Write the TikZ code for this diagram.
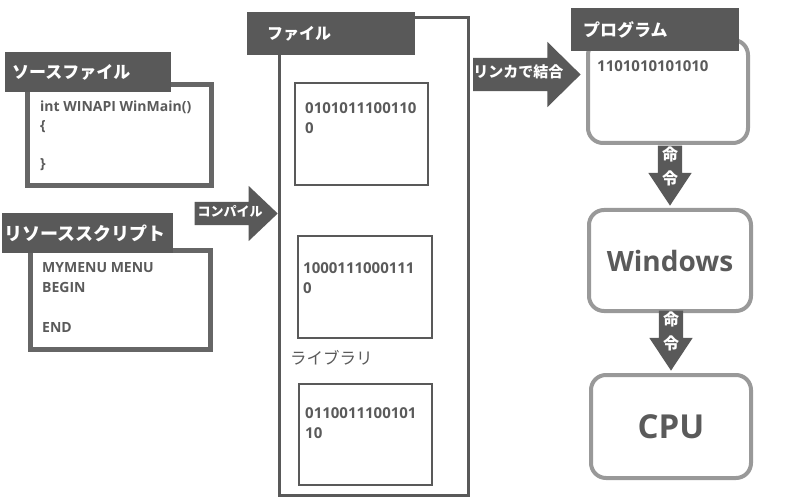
\documentclass[tikz,border=0pt]{standalone}
\usepackage{fontspec}
\setmainfont{Open Sans}
\newfontfamily\jp{Noto Sans CJK JP}
\usetikzlibrary{shapes.arrows,positioning}
\definecolor{tagdark}{HTML}{595959}
\definecolor{framegray}{HTML}{666666}
\definecolor{roundgray}{HTML}{999999}
\definecolor{codegray}{HTML}{5A5A5A}
\begin{document}
\begin{tikzpicture}[x=1pt,y=-1pt,
  tag/.style={fill=tagdark,text=white,anchor=north west,inner ysep=0pt,align=left,
    font=\jp\bfseries\fontsize{17}{17}\selectfont},
  codebox/.style={draw=framegray,line width=5pt,inner sep=0pt},
  libbox/.style={draw=tagdark,line width=2pt,inner sep=0pt},
  roundbox/.style={draw=roundgray,line width=4pt,rounded corners=15pt,inner sep=0pt,text=codegray},
  code/.style={anchor=north west,inner sep=0pt,align=left,text=codegray,
    font=\bfseries\fontsize{14}{19}\selectfont},
  bits/.style={anchor=north west,inner sep=0pt,align=left,text=codegray,
    font=\bfseries\fontsize{15}{20}\selectfont},
  blockarrow/.style={single arrow,fill=tagdark,text=white,inner xsep=0pt,
    font=\jp\bfseries\fontsize{13}{13}\selectfont},
  downarrow/.style={blockarrow,shape border rotate=270,align=center,inner xsep=4pt,inner ysep=0pt,
    minimum height=60pt,single arrow head extend=9.5pt,single arrow tip angle=67,anchor=tip,
    font=\jp\bfseries\fontsize{16}{24}\selectfont}]
\useasboundingbox (0,0) rectangle (796,500);

% source files
\node[codebox,minimum width=184pt,minimum height=101pt] (src) at (119.5,135) {};
\node[tag,inner xsep=7pt,text width=152pt,minimum height=40pt] (srctag) at (5,52) {ソースファイル};
\node[code] (srccode) at (40,101) {int WINAPI WinMain()\\\{\\[19pt]\}};

\node[codebox,minimum width=180pt,minimum height=99pt] (res) at (120.5,300) {};
\node[tag,inner xsep=2pt,text width=167pt,minimum height=40pt,
  font=\jp\bfseries\fontsize{18}{18}\selectfont] (restag) at (2,213) {リソーススクリプト};
\node[code,font=\bfseries\fontsize{14}{20}\selectfont] (rescode) at (42,262) {MYMENU MENU\\BEGIN\\[20pt]END};

% object files and library
\node[draw=tagdark,line width=3pt,minimum width=189pt,minimum height=478pt] (file) at (374,256.5) {};
\node[tag,inner xsep=20pt,text width=128pt,minimum height=43pt,
  font=\jp\bfseries\fontsize{16}{16}\selectfont] (filetag) at (247,12) {ファイル};

\node[libbox,minimum width=133pt,minimum height=102pt] (obj1) at (361.5,134) {};
\node[bits] at (305,102) {0101011100110\\0};
\node[libbox,minimum width=134pt,minimum height=102pt] (obj2) at (365,287) {};
\node[bits] at (303,262) {1000111000111\\0};
\node[anchor=west,inner sep=0pt,text=codegray,font=\jp\fontsize{16.5}{16.5}\selectfont] (libname) at (290,358) {ライブラリ};
\node[libbox,minimum width=133pt,minimum height=101pt] (obj3) at (365.5,434.5) {};
\node[bits] at (305,407) {0110011100101\\10};

\node[blockarrow,anchor=tip,minimum height=83pt,text height=10pt,text depth=3pt,inner ysep=5pt,
  single arrow head extend=16pt,single arrow tip angle=87] (compile) at (file.west |- 0,213.5) {コンパイル};

% program and execution
\node[roundbox,minimum width=160pt,minimum height=103pt] (prog) at (668,91.5) {};
\node[tag,inner xsep=12pt,text width=144pt,minimum height=43pt] (progtag) at (571,8) {プログラム};
\node[bits] at (597,60) {1101010101010};

\node[blockarrow,anchor=tail,minimum height=107pt,text height=11pt,text depth=4pt,inner ysep=9pt,
  single arrow head extend=16pt,single arrow tip angle=89,
  font=\jp\bfseries\fontsize{15}{15}\selectfont] (link) at (473,74.5) {リンカで結合};

\node[roundbox,minimum width=162pt,minimum height=101pt,font=\bfseries\fontsize{28}{28}\selectfont] (win) at (670,260.5) {Windows};
\node[roundbox,minimum width=160pt,minimum height=103pt,font=\bfseries\fontsize{33}{33}\selectfont] (cpu) at (671,426.5) {CPU};

\node[downarrow] (cmd1) at ([yshift=2pt]win.north) {命\\令};
\node[downarrow] (cmd2) at ([yshift=2pt]cpu.north) {命\\令};
\end{tikzpicture}
\end{document}
